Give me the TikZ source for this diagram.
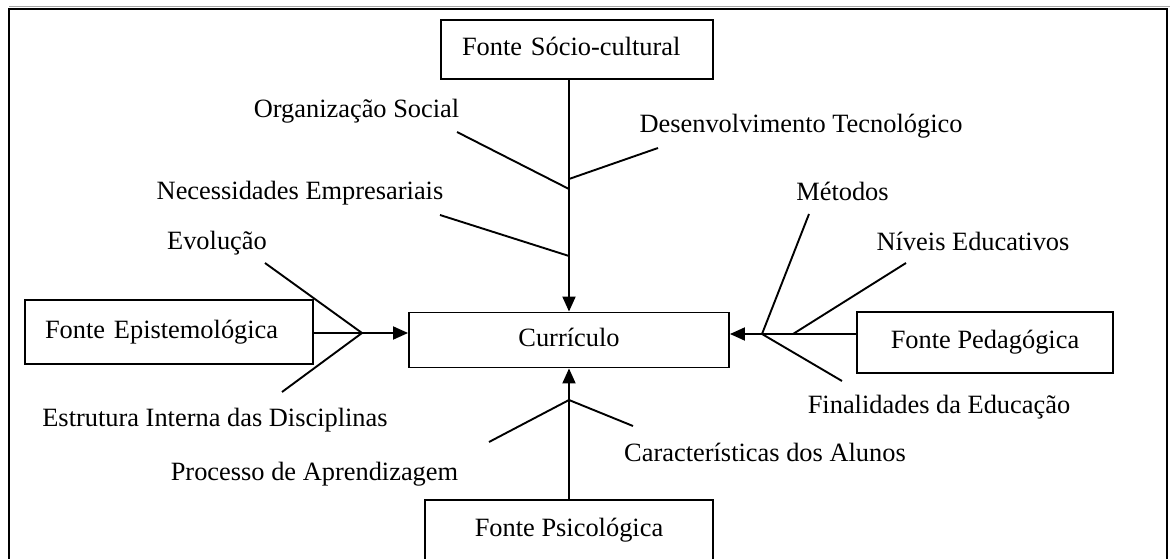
\documentclass[tikz,border=0pt]{standalone}
\usepackage{fontspec}
\setmainfont{Liberation Serif}
\usetikzlibrary{arrows.meta}
\begin{document}
\begin{tikzpicture}[x=1pt,y=-1pt,
  line width=1.9pt,
  >={Triangle[length=15pt,width=13pt]},
  every node/.style={font=\fontsize{26.4}{30}\selectfont, inner sep=0pt},
  srcbox/.style={draw, rectangle, text height=18pt, text depth=6pt},
  leftbox/.style={srcbox, align=left, inner xsep=#1},
  lbl/.style={anchor=base}]
\useasboundingbox (0,0) rectangle (1170,559);

% outer frame (open at the bottom)
\draw[gray!70, line width=1pt] (9,6.8) -- (1170,6.8);
\draw[line width=2.2pt] (9,570) -- (9,8.8) -- (1167,8.8) -- (1167,570);

% boxes
\node[leftbox=21pt, text width=230pt, minimum height=59pt] (socio) at (577,49.5) {Fonte Sócio-cultural};
\node[leftbox=20pt, text width=248pt, minimum height=64pt] (epist) at (169,332) {Fonte Epistemológica};
\node[srcbox, minimum width=320pt, minimum height=55pt] (curr) at (569,340) {Currículo};
\node[srcbox, minimum width=256pt, minimum height=61pt] (pedag) at (985,342.5) {Fonte Pedagógica};
\node[srcbox, minimum width=288pt, minimum height=60pt] (psico) at (569,530) {Fonte Psicológica};

% labels
\node[lbl] (org) at (356.5,118) {Organização Social};
\node[lbl] (desenv) at (801,133) {Desenvolvimento Tecnológico};
\node[lbl] (necess) at (300,199) {Necessidades Empresariais};
\node[lbl] (evol) at (217,249) {Evolução};
\node[lbl] (estrut) at (215,426) {Estrutura Interna das Disciplinas};
\node[lbl] (metod) at (842.5,200) {Métodos};
\node[lbl] (niveis) at (973,250) {Níveis Educativos};
\node[lbl] (final) at (939,413) {Finalidades da Educação};
\node[lbl] (caract) at (765,461) {Características dos Alunos};
\node[lbl] (proc) at (314.5,480) {Processo de Aprendizagem};

% socio-cultural source
\draw[->] (socio.south -| curr.north) -- (curr.north);
\coordinate (orgEnd) at (457,132);  \coordinate (jOrg) at (569,189);
\coordinate (desEnd) at (658,148);  \coordinate (jDes) at (569,179);
\coordinate (necEnd) at (440,215);  \coordinate (jNec) at (569,256);
\draw (orgEnd) -- (jOrg);
\draw (jDes) -- (desEnd);
\draw (necEnd) -- (jNec);

% epistemological source
\coordinate (jL) at (362,333);
\draw (epist.east |- jL) -- (jL);
\draw[->] (jL) -- (jL -| curr.west);
\coordinate (evolEnd) at (265,263);
\coordinate (estrEnd) at (282,392);
\draw (evolEnd) -- (jL);
\draw (estrEnd) -- (jL);

% pedagogical source
\coordinate (jR) at (762,334);
\draw (pedag.west |- jR) -- (jR);
\draw[->] (jR) -- (jR -| curr.east);
\coordinate (metEnd) at (809,214);
\coordinate (nivEnd) at (906,263);
\coordinate (nivFoot) at (793,334);
\coordinate (finEnd) at (842,381);
\draw (metEnd) -- (jR);
\draw (nivEnd) -- (nivFoot);
\draw (jR) -- (finEnd);

% psychological source
\coordinate (jB) at (569,400);
\draw (psico.north) -- (jB);
\draw[->] (jB) -- (curr.south);
\coordinate (procEnd) at (489,442);
\coordinate (carEnd) at (633,426);
\draw (procEnd) -- (jB);
\draw (carEnd) -- (jB);
\end{tikzpicture}
\end{document}
